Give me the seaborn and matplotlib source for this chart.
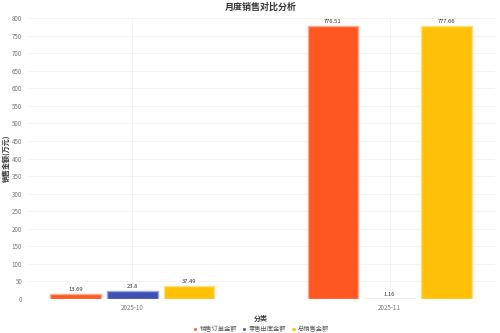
import matplotlib
matplotlib.use("Agg")
import matplotlib.pyplot as plt
import matplotlib.colors as mcolors
import seaborn as sns
import pandas as pd
import numpy as np

months = ["2025-10", "2025-11"]
series = ["销售订单金额", "零售出库金额", "总销售金额"]
order_amt = [13.69, 776.51]
retail_amt = [23.8, 1.16]
total_amt = [37.49, 777.66]
colors = ["#FF5722", "#3F51B5", "#FFC107"]

rows = []
for s, vals in zip(series, [order_amt, retail_amt, total_amt]):
    for m, v in zip(months, vals):
        rows.append({"分类": m, "系列": s, "金额": v})
df = pd.DataFrame(rows)

sns.set_theme(style="white")
plt.rcParams['font.family'] = ['Noto Sans CJK SC', 'DejaVu Sans']

fig = plt.figure(figsize=(5, 3.33), dpi=100)
ax = fig.add_axes([0.054, 0.102, 0.936, 0.844])

sns.barplot(data=df, x="分类", y="金额", hue="系列", order=months, hue_order=series,
            palette=colors, width=0.66, gap=0.1, ax=ax, legend=True,
            linewidth=1.0, saturation=1)

for cont, c in zip(ax.containers, colors):
    light = 0.5 * np.array(mcolors.to_rgb(c)) + 0.5
    for p in cont.patches:
        p.set_edgecolor(light)
    labels = [f"{v:g}" for v in cont.datavalues]
    ax.bar_label(cont, labels=labels, padding=1.5, fontsize=4.2, color="#333333",
                 fontweight="medium")

ax.set_xlim(-0.41, 1.41)
ax.set_ylim(0, 800)
ax.set_yticks(range(0, 801, 50))
ax.grid(True, color="#f2f2f2", linewidth=0.6)
ax.set_axisbelow(True)
for sp in ax.spines.values():
    sp.set_visible(False)
ax.tick_params(axis="both", labelsize=4.5, length=2, width=0.4, pad=1.5,
               colors="#cccccc", labelcolor="#777777")
ax.set_xlabel("分类", fontsize=5, fontweight="bold", color="#333333")
ax.xaxis.set_label_coords(0.5, -0.055)
ax.set_ylabel("销售金额(万元)", fontsize=5, fontweight="bold", color="#333333")
ax.yaxis.set_label_coords(-0.036, 0.5)
ax.set_title("月度销售对比分析", fontsize=6.5, fontweight="bold", color="#333333", pad=6)

ax.legend(loc="upper center", bbox_to_anchor=(0.5, -0.077), ncol=3, frameon=False,
          fontsize=4.5, handlelength=0.7, handleheight=0.7, handletextpad=0.4,
          columnspacing=0.8, labelcolor="#555555", borderpad=0.2)

fig.savefig("out.png", dpi=100)
